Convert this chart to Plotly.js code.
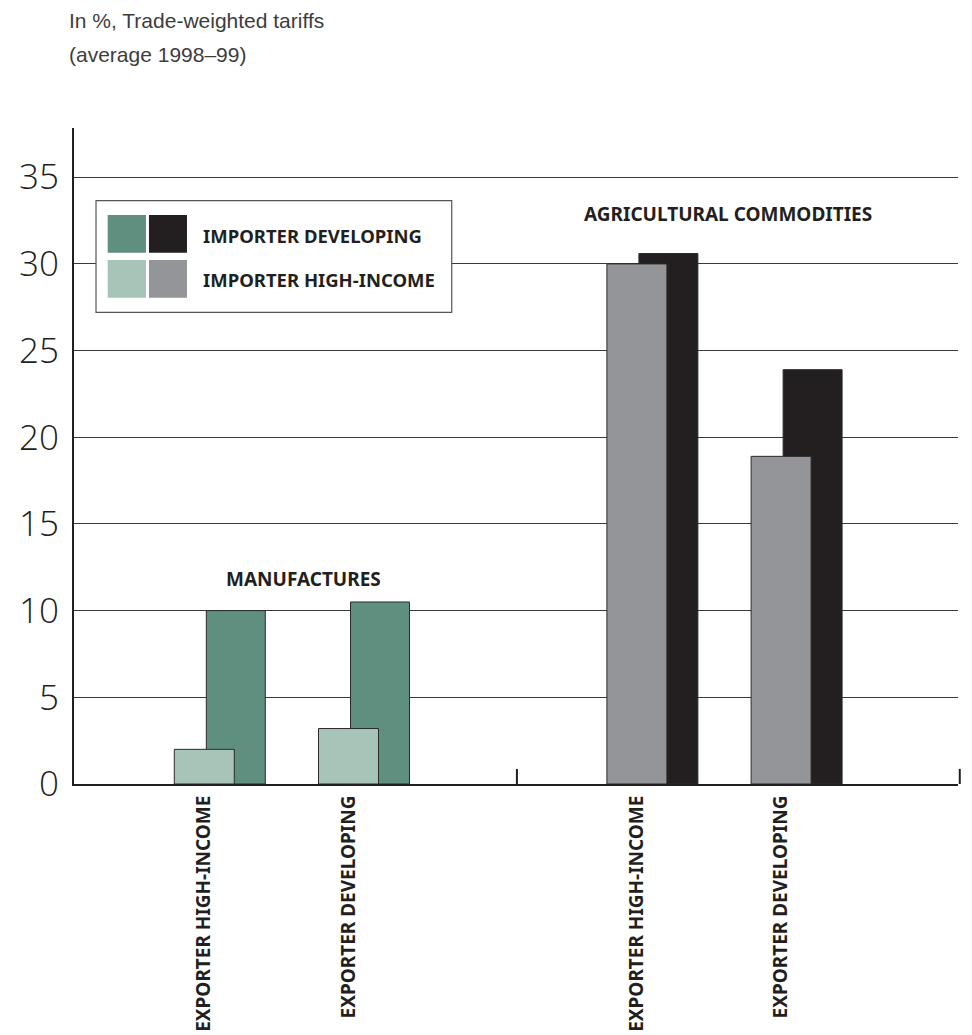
<!DOCTYPE html>
<html>
<head>
<meta charset="utf-8">
<script src="https://cdn.plot.ly/plotly-3.0.1.min.js"></script>
<style>
  html, body { margin: 0; padding: 0; background: #ffffff; }
  #chart { width: 972px; height: 1035px; }
</style>
</head>
<body>
<div id="chart"></div>
<script>
// ---- Data ----
const categoryKeys = ["MFG|EXPORTER HIGH-INCOME", "MFG|EXPORTER DEVELOPING", "GAP", "AGR|EXPORTER HIGH-INCOME", "AGR|EXPORTER DEVELOPING"];
const barKeys = ["MFG|EXPORTER HIGH-INCOME", "MFG|EXPORTER DEVELOPING", "AGR|EXPORTER HIGH-INCOME", "AGR|EXPORTER DEVELOPING"];
const tickLabels = ["EXPORTER HIGH-INCOME", "EXPORTER DEVELOPING", "EXPORTER HIGH-INCOME", "EXPORTER DEVELOPING"];
const groupLabels = ["MANUFACTURES", "AGRICULTURAL COMMODITIES"];
const seriesNames = ["IMPORTER DEVELOPING", "IMPORTER HIGH-INCOME"];
const importerDeveloping = [10.0, 10.5, 30.6, 23.9];
const importerHighIncome = [2.0, 3.2, 30.0, 18.9];
const yTicks = [0, 5, 10, 15, 20, 25, 30, 35];
const subtitleLines = ["In %, Trade-weighted tariffs", "(average 1998–99)"];

// ---- Styles ----
const DARK_GREEN = "#5f8f7e";
const LIGHT_GREEN = "#a7c4b8";
const BLACK = "#231f20";
const GREY = "#939598";
const devColors = [DARK_GREEN, DARK_GREEN, BLACK, BLACK];
const hiColors = [LIGHT_GREEN, LIGHT_GREEN, GREY, GREY];
const condFont = "'Noto Sans', 'Open Sans', sans-serif";
const boldCond = (size) => ({ family: condFont, size: size, color: "#231f20", weight: "bold", stretch: "condensed" });

const traces = [
  {
    type: "bar", name: seriesNames[0], x: barKeys, y: importerDeveloping,
    width: 0.409, offset: 0.014,
    marker: { color: devColors, line: { color: "#2b2b2b", width: 1 } },
    showlegend: false, hoverinfo: "y"
  },
  {
    type: "bar", name: seriesNames[1], x: barKeys, y: importerHighIncome,
    width: 0.416, offset: -0.208,
    marker: { color: hiColors, line: { color: "#2b2b2b", width: 1 } },
    showlegend: false, hoverinfo: "y"
  }
];

const layout = {
  width: 972, height: 1035,
  margin: { l: 74, r: 14, t: 128, b: 251 },
  paper_bgcolor: "#ffffff", plot_bgcolor: "#ffffff",
  barmode: "overlay",
  showlegend: false,
  xaxis: {
    type: "category",
    categoryorder: "array", categoryarray: categoryKeys,
    range: [-0.9036, 5.2268],
    tickvals: barKeys, ticktext: tickLabels,
    tickangle: -90,
    ticks: "outside", ticklen: 2, tickcolor: "rgba(0,0,0,0)",
    tickfont: boldCond(19),
    showline: true, linecolor: "#231f20", linewidth: 2,
    showgrid: false, zeroline: false, fixedrange: true
  },
  yaxis: {
    range: [0, 37.84],
    tickvals: yTicks,
    ticks: "outside", ticklen: 6, tickcolor: "rgba(0,0,0,0)",
    tickfont: { family: "'Open Sans', 'Liberation Sans', sans-serif", size: 35, color: "#231f20", weight: 300 },
    showline: true, linecolor: "#231f20", linewidth: 2,
    showgrid: true, gridcolor: "#3a3a3a", gridwidth: 1,
    zeroline: false, fixedrange: true
  },
  shapes: [
    // group separator tick marks on the baseline
    { type: "line", xref: "x", yref: "paper", x0: 2.168, x1: 2.168, y0: 0, y1: 0.023, line: { color: "#231f20", width: 2 } },
    { type: "line", xref: "paper", yref: "paper", x0: 1.002, x1: 1.002, y0: 0, y1: 0.023, line: { color: "#231f20", width: 2 } },
    // legend box
    { type: "rect", xref: "paper", yref: "paper", x0: 0.0249, x1: 0.4273, y0: 0.7190, y1: 0.8892,
      fillcolor: "#ffffff", line: { color: "#555555", width: 1.2 }, layer: "above" },
    { type: "rect", xref: "paper", yref: "paper", x0: 0.0381, x1: 0.0814, y0: 0.8099, y1: 0.8674, fillcolor: DARK_GREEN, line: { width: 0 }, layer: "above" },
    { type: "rect", xref: "paper", yref: "paper", x0: 0.0848, x1: 0.1278, y0: 0.8099, y1: 0.8674, fillcolor: BLACK, line: { width: 0 }, layer: "above" },
    { type: "rect", xref: "paper", yref: "paper", x0: 0.0381, x1: 0.0814, y0: 0.7413, y1: 0.7988, fillcolor: LIGHT_GREEN, line: { width: 0 }, layer: "above" },
    { type: "rect", xref: "paper", yref: "paper", x0: 0.0848, x1: 0.1278, y0: 0.7413, y1: 0.7988, fillcolor: GREY, line: { width: 0 }, layer: "above" }
  ],
  annotations: [
    { xref: "paper", yref: "paper", x: 0.1437, y: 0.8358, xanchor: "left", yanchor: "middle", showarrow: false,
      text: seriesNames[0], font: boldCond(18.5) },
    { xref: "paper", yref: "paper", x: 0.1437, y: 0.7694, xanchor: "left", yanchor: "middle", showarrow: false,
      text: seriesNames[1], font: boldCond(18.5) },
    { xref: "x", yref: "y", x: 0.69, y: 11.83, xanchor: "center", yanchor: "middle", showarrow: false,
      text: groupLabels[0], font: boldCond(19) },
    { xref: "x", yref: "y", x: 3.635, y: 32.9, xanchor: "center", yanchor: "middle", showarrow: false,
      text: groupLabels[1], font: boldCond(19) },
    { xref: "paper", yref: "paper", x: -0.0079, y: 1.1646, xanchor: "left", yanchor: "middle", showarrow: false,
      text: subtitleLines[0], font: { family: "'Liberation Sans', Arial, sans-serif", size: 21, color: "#3d3d3d" } },
    { xref: "paper", yref: "paper", x: -0.0079, y: 1.1113, xanchor: "left", yanchor: "middle", showarrow: false,
      text: subtitleLines[1], font: { family: "'Liberation Sans', Arial, sans-serif", size: 21, color: "#3d3d3d" } }
  ]
};

Plotly.newPlot("chart", traces, layout, { displayModeBar: false, staticPlot: true });
</script>
</body>
</html>
